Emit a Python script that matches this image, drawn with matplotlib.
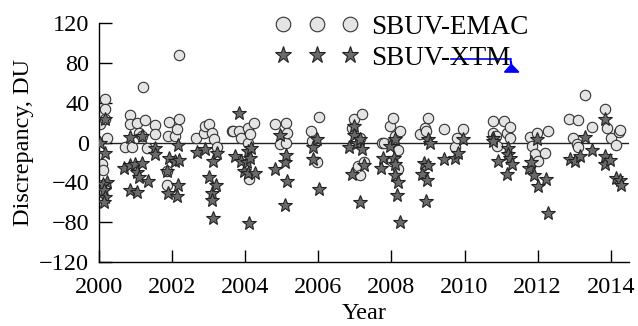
import matplotlib
matplotlib.use("Agg")
import matplotlib.pyplot as plt
from matplotlib.lines import Line2D
from matplotlib.patches import Polygon

plt.rcParams['font.family'] = ['Liberation Serif', 'DejaVu Serif']

# SBUV-EMAC discrepancy (year, DU)
emac_year = [2000.04, 2000.16, 2000.16, 2000.16, 2000.22, 2000.08, 2000.10,
             2000.72, 2000.86, 2000.86, 2000.90, 2001.04, 2001.09, 2001.18, 2001.22, 2001.27, 2001.32, 2001.54, 2001.54,
             2001.86, 2001.86, 2001.89, 2001.91, 2002.09, 2002.14, 2002.18, 2002.20,
             2002.66, 2002.87, 2002.91, 2003.00, 2003.10, 2003.14, 2003.23,
             2003.64, 2003.68, 2003.82, 2003.90, 2004.09, 2004.09, 2004.11, 2004.14, 2004.25,
             2004.82, 2004.96, 2005.11, 2005.11, 2005.14,
             2005.81, 2005.83, 2005.96, 2006.03,
             2006.92, 2006.97, 2007.10, 2007.15, 2007.14, 2007.20, 2007.26,
             2007.73, 2007.80, 2007.96, 2008.01, 2008.05, 2008.05, 2008.10, 2008.17, 2008.17, 2008.24,
             2008.78, 2008.92, 2008.95, 2008.99, 2009.45, 2009.75, 2009.79, 2009.97,
             2010.79, 2010.79, 2010.87, 2010.90, 2011.08, 2011.15, 2011.24, 2011.24,
             2011.79, 2011.84, 2011.93, 2011.97, 2012.02, 2012.20, 2012.27,
             2012.86, 2012.98, 2013.07, 2013.10, 2013.10, 2013.30, 2013.48,
             2013.83, 2013.89, 2014.00, 2014.14, 2014.22, 2014.25]
emac_du = [19, 44, 34, 24, 5, -21, -27,
           -4, 28, 19, -4, 20, 10, 7, 56, 23, -5, 18, 9,
           -28, -43, 7, 21, 7, 14, 24, 88,
           5, 10, 17, 19, 10, 4, -4,
           12, 12, 12, 5, 15, 0, -37, 9, 20,
           19, -1, 20, 0, 10,
           12, 2, -19, 26,
           15, 24, -23, -33, 5, 29, -19,
           0, 0, 17, -18, 25, 2, 7, -7, -26, 12,
           9, 15, 12, 25, 14, -4, 5, 14,
           22, 10, 7, -3, 22, 10, 16, 5,
           6, -3, -11, 10, -18, -10, 12,
           24, 5, -1, 23, -4, 48, 16,
           34, 15, 5, -2, 11, 13]

# SBUV-XTM discrepancy (year, DU)
xtm_year = [2000.04, 2000.16, 2000.17, 2000.22, 2000.10, 2000.15, 2000.17, 2000.13,
            2000.70, 2000.86, 2000.86, 2000.86, 2000.99, 2001.04, 2001.04, 2001.09, 2001.18, 2001.18, 2001.34, 2001.54, 2001.54,
            2001.86, 2001.89, 2001.91, 2002.09, 2002.14, 2002.16, 2002.16, 2002.20,
            2002.68, 2002.91, 2003.00, 2003.10, 2003.10, 2003.11, 2003.11, 2003.20, 2003.23,
            2003.73, 2003.82, 2003.90, 2003.98, 2004.04, 2004.09, 2004.09, 2004.11, 2004.14, 2004.16, 2004.27,
            2004.82, 2004.96, 2005.08, 2005.10, 2005.12, 2005.14,
            2005.85, 2005.85, 2005.96, 2006.03,
            2006.85, 2006.92, 2006.97, 2006.97, 2007.06, 2007.14, 2007.15, 2007.19, 2007.26,
            2007.71, 2007.78, 2007.96, 2008.08, 2008.10, 2008.10, 2008.10, 2008.15, 2008.17, 2008.24,
            2008.83, 2008.90, 2008.95, 2008.97, 2009.01, 2009.01, 2009.05,
            2009.45, 2009.75, 2009.82, 2009.97,
            2010.78, 2010.79, 2010.91, 2011.15, 2011.19, 2011.19, 2011.24, 2011.29,
            2011.76, 2011.82, 2011.91, 2011.97, 2012.00, 2012.22, 2012.27,
            2012.89, 2013.03, 2013.16, 2013.30, 2013.48,
            2013.83, 2013.85, 2013.85, 2013.98, 2014.14, 2014.25, 2014.27]
xtm_du = [0, 24, -10, -40, -42, -48, -55, -60,
          -25, 6, -22, -48, -21, -30, -50, -35, 7, -20, -39, -5, -11,
          -28, -51, -15, -18, -54, -2, -43, -17,
          -9, -6, -35, -51, -58, -18, -76, -43, -10,
          -13, 30, -18, -28, -19, -8, -31, -81, -15, -5, -31,
          -26, 8, -19, -63, -12, -39,
          -4, -16, 4, -47,
          -4, -32, 17, 8, 0, 4, -60, -6, -22,
          -25, -15, -3, -15, 4, -21, -33, -53, -40, -80,
          -32, -20, -59, -38, 4, -22, 0,
          -16, -15, -10, 4,
          5, 2, -18, -32, -5, -11, -15, -21,
          -25, -19, -33, 4, -44, -37, -71,
          -16, -18, -13, 6, -7,
          24, -13, -21, -17, -36, -38, -43]

xticks = [2000, 2002, 2004, 2006, 2008, 2010, 2012, 2014]
yticks = [-120, -80, -40, 0, 40, 80, 120]

circle_style = dict(ls='none', marker='o', mfc='#e4e4e4', mec='#333333', mew=0.8)
star_style = dict(ls='none', marker='*', mfc='#6a6a6a', mec='#222222', mew=0.8)

fig = plt.figure(figsize=(6.38, 3.26), dpi=100)
ax = fig.add_axes([0.155, 0.196, 0.831, 0.733])

ax.axhline(0, color='#222222', lw=1.0, zorder=1)
ax.plot(emac_year, emac_du, ms=7.5, zorder=2, **circle_style)
ax.plot(xtm_year, xtm_du, ms=10.5, zorder=3, **star_style)

ax.set_xlim(2000, 2014.5)
ax.set_ylim(-120, 120)
ax.set_xticks(xticks)
ax.set_yticks(yticks)
ax.set_yticklabels([str(v).replace('-', '\u2212') for v in yticks])
ax.tick_params(direction='in', length=9, width=1, labelsize=17.5, pad=7)
ax.tick_params(axis='x', pad=10.5)
for s in ['top', 'right']:
    ax.spines[s].set_visible(False)
for s in ['left', 'bottom']:
    ax.spines[s].set_linewidth(1.0)

ax.set_xlabel('Year', fontsize=17.5, labelpad=4)
ax.set_ylabel('Discrepancy, DU', fontsize=17.5, labelpad=4)

handles = [Line2D([], [], ms=10.5, **circle_style),
           Line2D([], [], ms=12.5, **star_style)]
ax.legend(handles, ['SBUV-EMAC', 'SBUV-XTM'], loc='upper left',
          bbox_to_anchor=(0.312, 1.08), frameon=False, numpoints=3,
          handlelength=3.07, handletextpad=0.48, labelspacing=0.22,
          fontsize=19.5, borderaxespad=0)

# blue pen mark over the legend text
ax.plot([0.664, 0.777], [0.849, 0.849], color='#0000ff', lw=1.2,
        transform=ax.transAxes, zorder=5, clip_on=False)
ax.add_patch(Polygon([(0.776, 0.851), (0.777, 0.825), (0.765, 0.795),
                      (0.792, 0.795), (0.779, 0.825)], closed=True,
                     color='#0000ff', transform=ax.transAxes, zorder=5, clip_on=False))

fig.savefig('out.png', dpi=100)
